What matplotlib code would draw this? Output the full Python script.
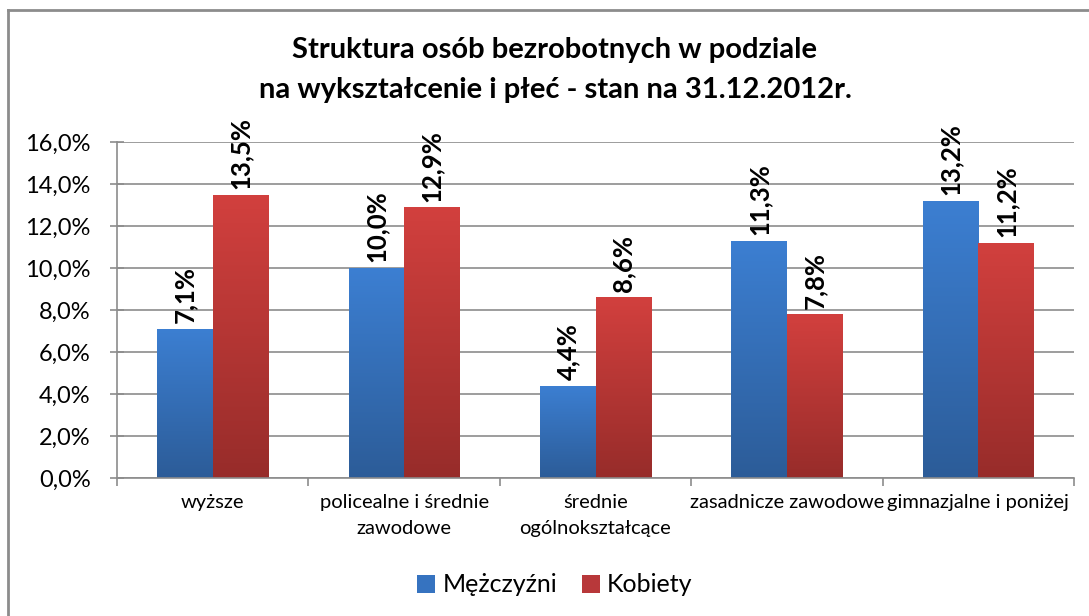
import matplotlib
matplotlib.use("Agg")
import matplotlib.pyplot as plt
import numpy as np
from matplotlib.colors import LinearSegmentedColormap
from matplotlib.lines import Line2D
from matplotlib.patches import Patch

categories = ["wyższe", "policealne i średnie\nzawodowe", "średnie\nogólnokształcące",
              "zasadnicze zawodowe", "gimnazjalne i poniżej"]
men = [7.1, 10.0, 4.4, 11.3, 13.2]
women = [13.5, 12.9, 8.6, 7.8, 11.2]
series_names = ["Mężczyźni", "Kobiety"]
yticks = [0, 2, 4, 6, 8, 10, 12, 14, 16]

plt.rcParams['font.family'] = ['Lato', 'DejaVu Sans']

W, H = 1089, 616
fig = plt.figure(figsize=(W/100, H/100), dpi=100)
fig.patch.set_facecolor("white")

ax = fig.add_axes([117/W, 1-478/H, (1074-117)/W, (478-142)/H])

x = np.arange(len(categories))
bw = 0.29
blue_cm = LinearSegmentedColormap.from_list("b", ["#2C5C98", "#3C7FD2"])
red_cm = LinearSegmentedColormap.from_list("r", ["#972C2A", "#D2403E"])

bars_m = ax.bar(x - bw/2, men, bw, color="#3673C0", zorder=3)
bars_w = ax.bar(x + bw/2, women, bw, color="#C03A38", zorder=3)

grad = np.linspace(0, 1, 256).reshape(-1, 1)
for bars, cm in ((bars_m, blue_cm), (bars_w, red_cm)):
    for b in bars:
        b.set_facecolor("none")
        bx, by = b.get_x(), b.get_y()
        w, h = b.get_width(), b.get_height()
        im = ax.imshow(grad, cmap=cm, aspect="auto", origin="lower",
                       extent=[bx, bx + w, by, by + h], zorder=2)
        im.set_clip_path(b)

for bars, vals in ((bars_m, men), (bars_w, women)):
    for b, v in zip(bars, vals):
        ax.annotate(f"{v:.1f}%".replace(".", ","),
                    (b.get_x() + b.get_width()/2, v),
                    xytext=(0, 4), textcoords="offset points",
                    rotation=90, ha="center", va="bottom",
                    fontsize=18.5, fontweight="bold", color="black", zorder=5)

ax.set_xlim(-0.5, len(categories) - 0.5)
ax.set_ylim(0, 16)
ax.set_yticks(yticks)
ax.set_yticklabels([f"{t:.1f}%".replace(".", ",") for t in yticks], fontsize=17)
ax.yaxis.grid(True, color="#8C8C8C", linewidth=1.2, zorder=0)
ax.set_axisbelow(True)
ax.tick_params(axis="y", direction="inout", length=10, color="#8C8C8C", width=1.2, pad=14)

ax.set_xticks(np.arange(len(categories) + 1) - 0.5, minor=False)
ax.set_xticklabels([])
ax.tick_params(axis="x", direction="out", length=6, color="#8C8C8C", width=1.2)
for i, c in enumerate(categories):
    ax.text(i, -0.75, c, ha="center", va="top", fontsize=14.5, linespacing=1.65,
            transform=ax.transData)

for s in ("top", "right"):
    ax.spines[s].set_visible(False)
for s in ("left", "bottom"):
    ax.spines[s].set_color("#8C8C8C")
    ax.spines[s].set_linewidth(1.2)

fig.text(555/W, 1-50/H, "Struktura osób bezrobotnych w podziale", ha="center", va="center",
         fontsize=21, fontweight="bold")
fig.text(555/W, 1-90/H, "na wykształcenie i płeć - stan na 31.12.2012r.", ha="center", va="center",
         fontsize=21, fontweight="bold")

handles = [Patch(facecolor="#3673C0"), Patch(facecolor="#B8383A")]
fig.legend(handles, series_names, loc="center", bbox_to_anchor=(555/W, 1-585/H), ncol=2,
           frameon=False, fontsize=18, handlelength=0.7, handleheight=0.7,
           handletextpad=0.3, columnspacing=1.0)

fig.add_artist(Line2D([8/W, 8/W], [0, 1-10/H], color="#8C8C8C", linewidth=2, transform=fig.transFigure))
fig.add_artist(Line2D([8/W, 1], [1-10/H, 1-10/H], color="#8C8C8C", linewidth=2, transform=fig.transFigure))

fig.savefig("out.png", dpi=100)
